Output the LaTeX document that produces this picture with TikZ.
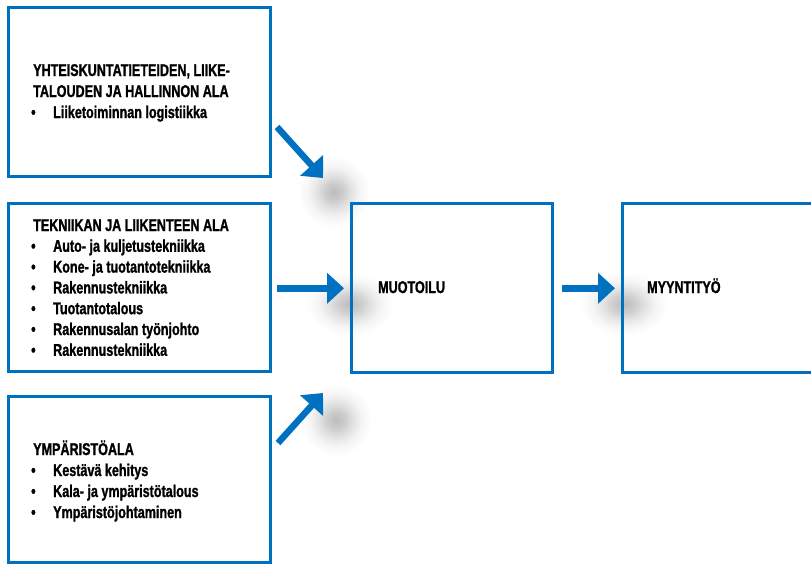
\documentclass[tikz,border=0pt]{standalone}
\usepackage{fontspec}
\setmainfont{Liberation Sans}[FakeStretch=0.74, FakeBold=1.2]
\usetikzlibrary{arrows.meta,calc}
\definecolor{boxblue}{RGB}{0,112,192}

% soft grey blob used as a drop shadow behind the arrow heads
\pgfdeclareradialshading{softglow}{\pgfpoint{0bp}{0bp}}{%
  color(0bp)=(black!26); color(6bp)=(black!20); color(12bp)=(black!11);
  color(18bp)=(black!4); color(25bp)=(white); color(50bp)=(white)}

\tikzset{
  box/.style={draw=boxblue, line width=2.5pt, anchor=north west, inner sep=0pt},
  label/.style={font=\bfseries\fontsize{17}{20}\selectfont, anchor=base west, inner sep=0pt},
  flow/.style={draw=boxblue, line width=6.5pt, -{Triangle[length=17pt,width=30pt]}},
  glow/.style={shading=softglow},
}

\begin{document}
\begin{tikzpicture}[x=1pt, y=-1pt]
  \useasboundingbox (0,0) rectangle (811,563);

  % shadows under the arrow heads
  \shade[glow] (334,192) circle (36);
  \shade[glow] (350,304) ellipse (44 and 32);
  \shade[glow] (624,304) ellipse (44 and 32);
  \shade[glow] (336,420) circle (36);

  % boxes
  \node[box, minimum width=262pt, minimum height=169pt] (b1) at (7,6) {};
  \node[box, minimum width=262pt, minimum height=168pt] (b2) at (7,202) {};
  \node[box, minimum width=262pt, minimum height=166pt] (b3) at (7,395) {};
  \node[box, minimum width=201pt, minimum height=169pt] (b4) at (350,202) {};
  \node[box, minimum width=230pt, minimum height=169pt] (b5) at (621,202) {};

  % first box
  \node[label] (h1a) at (33,76) {YHTEISKUNTATIETEIDEN, LIIKE-};
  \node[label] (h1b) at (33,97) {TALOUDEN JA HALLINNON ALA};
  \node[label] (d1a) at (31,118) {•};
  \node[label] (i1a) at (53,118) {Liiketoiminnan logistiikka};

  % second box
  \node[label] (h2) at (33,231) {TEKNIIKAN JA LIIKENTEEN ALA};
  \foreach \t [count=\k] in {Auto- ja kuljetustekniikka,
      Kone- ja tuotantotekniikka, Rakennustekniikka, Tuotantotalous,
      Rakennusalan työnjohto, Rakennustekniikka} {
    \node[label] (d2\k) at (31,231+20.8*\k) {•};
    \node[label] (i2\k) at (53,231+20.8*\k) {\t};
  }

  % third box
  \node[label] (h3) at (33,455) {YMPÄRISTÖALA};
  \foreach \t [count=\k] in {Kestävä kehitys, Kala- ja ympäristötalous,
      Ympäristöjohtaminen} {
    \node[label] (d3\k) at (31,455+21*\k) {•};
    \node[label] (i3\k) at (53,455+21*\k) {\t};
  }

  % target boxes
  \node[label] (m) at (378,293) {MUOTOILU};
  \node[label] (s) at (647,293) {MYYNTITYÖ};

  % arrow ends
  \coordinate (a1s) at (277,127);
  \coordinate (a1e) at (323,178);
  \coordinate (a3s) at (278,443);
  \coordinate (a3e) at (323,393);

  % arrows
  \draw[flow] (a1s) -- (a1e);
  \draw[flow] ($(b2.east)+(5,1)$) -- ($(b4.west)+(-6,0.5)$);
  \draw[flow] (a3s) -- (a3e);
  \draw[flow] ($(b4.east)+(8,0.5)$) -- ($(b5.west)+(-6,0.5)$);
\end{tikzpicture}
\end{document}
